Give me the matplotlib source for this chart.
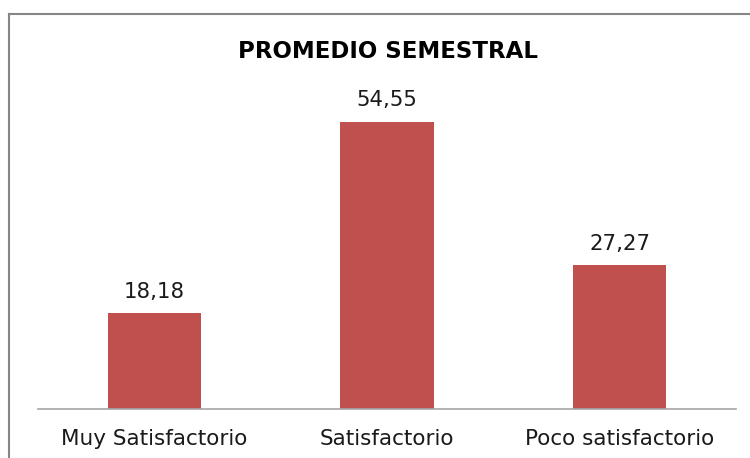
import matplotlib.pyplot as plt
from matplotlib.lines import Line2D

categories = ['Muy Satisfactorio', 'Satisfactorio', 'Poco satisfactorio']
values = [18.18, 54.55, 27.27]
value_labels = ['18,18', '54,55', '27,27']

plt.rcParams['font.family'] = ['DejaVu Sans']

fig = plt.figure(figsize=(7.5, 4.58), dpi=100)
ax = fig.add_axes([38 / 750, 49 / 458, 698 / 750, 316 / 458])

x = range(len(categories))
bars = ax.bar(x, values, width=0.4, color='#C0504D')

for b, lab in zip(bars, value_labels):
    ax.annotate(lab, (b.get_x() + b.get_width() / 2, b.get_height()),
                xytext=(0, 11), textcoords='offset points',
                ha='center', va='baseline', fontsize=15.3, color='#1a1a1a')

ax.set_xlim(-0.5, 2.5)
ax.set_ylim(0, 60)
ax.set_yticks([])
ax.set_xticks(list(x))
ax.set_xticklabels(categories, fontsize=15.5, color='#1a1a1a')
ax.tick_params(axis='x', length=0, pad=14.5)
for s in ['top', 'right', 'left']:
    ax.spines[s].set_visible(False)
ax.spines['bottom'].set_color('#a6a6a6')
ax.spines['bottom'].set_linewidth(1.2)

fig.text(388 / 750, 1 - 57.5 / 458, 'PROMEDIO SEMESTRAL', ha='center', va='baseline',
         fontsize=16.5, fontweight='bold', color='#000000')

# chart frame (runs past the right and bottom edges)
fig.add_artist(Line2D([9 / 750, 1.01], [1 - 14 / 458] * 2, transform=fig.transFigure,
                      color='#868686', linewidth=1.5))
fig.add_artist(Line2D([9 / 750] * 2, [1 - 14 / 458, -0.01], transform=fig.transFigure,
                      color='#868686', linewidth=1.5))

fig.savefig('out.png', dpi=100)
